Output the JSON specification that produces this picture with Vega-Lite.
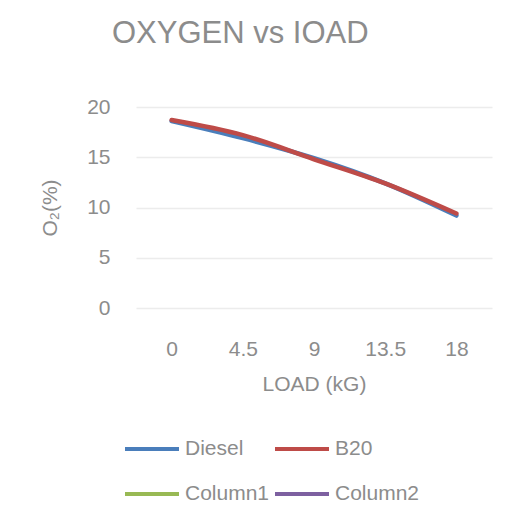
{
  "$schema": "https://vega.github.io/schema/vega-lite/v6.json",
  "autosize": "none",
  "width": 356,
  "height": 201,
  "padding": {"left": 136, "top": 107, "right": 22, "bottom": 216},
  "background": "white",
  "title": {
    "text": "OXYGEN  vs IOAD",
    "anchor": "start",
    "frame": "group",
    "dx": -24,
    "offset": 46,
    "font": "Liberation Sans",
    "fontSize": 31,
    "fontWeight": "normal",
    "color": "#8c8c8c"
  },
  "data": {
    "values": [
      {"load": "0", "series": "Diesel", "o2": 18.6},
      {"load": "4.5", "series": "Diesel", "o2": 16.9},
      {"load": "9", "series": "Diesel", "o2": 14.9},
      {"load": "13.5", "series": "Diesel", "o2": 12.4},
      {"load": "18", "series": "Diesel", "o2": 9.2},
      {"load": "0", "series": "B20", "o2": 18.7},
      {"load": "4.5", "series": "B20", "o2": 17.2},
      {"load": "9", "series": "B20", "o2": 14.8},
      {"load": "13.5", "series": "B20", "o2": 12.4},
      {"load": "18", "series": "B20", "o2": 9.4}
    ]
  },
  "mark": {"type": "line", "interpolate": "monotone", "strokeWidth": 4.5, "strokeCap": "round", "strokeJoin": "round"},
  "encoding": {
    "x": {
      "field": "load",
      "type": "ordinal",
      "sort": ["0", "4.5", "9", "13.5", "18"],
      "scale": {"padding": 0.5},
      "axis": {
        "title": "LOAD (kG)",
        "labelAngle": 0,
        "domain": false,
        "ticks": false,
        "grid": false,
        "labelPadding": 30,
        "titlePadding": 14,
        "labelFont": "Liberation Sans",
        "labelFontSize": 21,
        "labelColor": "#8c8c8c",
        "titleFont": "Liberation Sans",
        "titleFontSize": 21,
        "titleFontWeight": "normal",
        "titleColor": "#8c8c8c"
      }
    },
    "y": {
      "field": "o2",
      "type": "quantitative",
      "scale": {"domain": [0, 20], "nice": false},
      "axis": {
        "title": "O₂(%)",
        "values": [0, 5, 10, 15, 20],
        "domain": false,
        "ticks": false,
        "gridColor": "#ececec",
        "gridWidth": 1.5,
        "labelPadding": 26,
        "titlePadding": 26,
        "labelFont": "Liberation Sans",
        "labelFontSize": 21,
        "labelColor": "#8c8c8c",
        "titleFont": "Liberation Sans",
        "titleFontSize": 21,
        "titleFontWeight": "normal",
        "titleColor": "#8c8c8c"
      }
    },
    "color": {
      "field": "series",
      "type": "nominal",
      "sort": ["Diesel", "B20", "Column1", "Column2"],
      "scale": {
        "domain": ["Diesel", "B20", "Column1", "Column2"],
        "range": ["#4a7ebb", "#be4b48", "#98b954", "#7d60a0"]
      },
      "legend": {
        "title": null,
        "orient": "none",
        "direction": "horizontal",
        "legendX": -13,
        "legendY": 313,
        "columns": 2,
        "symbolType": "stroke",
        "symbolSize": 2916,
        "symbolStrokeWidth": 4,
        "symbolOffset": 0,
        "labelOffset": 4,
        "columnPadding": -3,
        "rowPadding": 6,
        "labelFont": "Liberation Sans",
        "labelFontSize": 21,
        "labelColor": "#8c8c8c"
      }
    }
  },
  "config": {"view": {"stroke": null}}
}
